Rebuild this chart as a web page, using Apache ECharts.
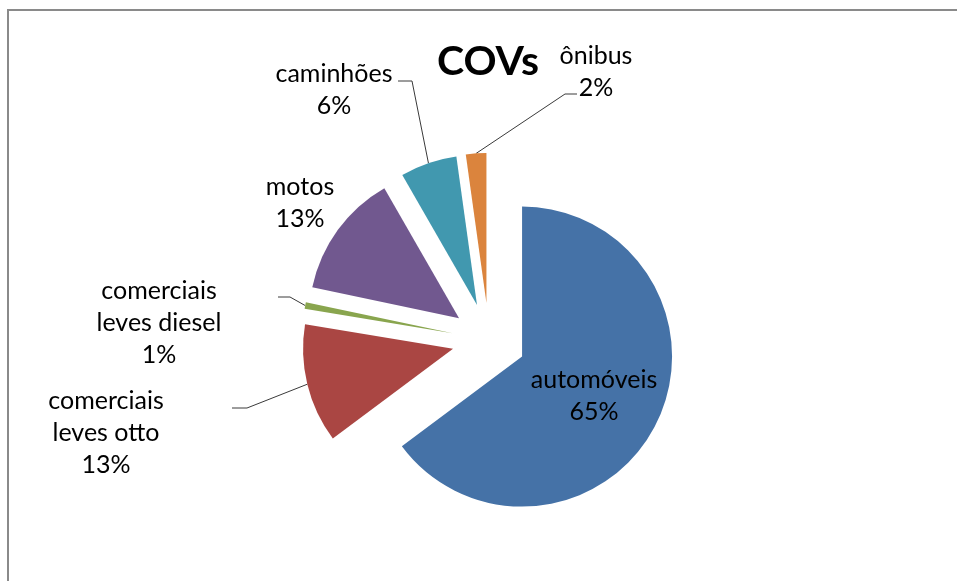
<!DOCTYPE html>
<html>
<head>
<meta charset="utf-8">
<title>COVs</title>
<script src="https://cdn.jsdelivr.net/npm/echarts@6/dist/echarts.min.js"></script>
<style>
  html, body { margin: 0; padding: 0; background: #ffffff; }
  #chart { width: 957px; height: 581px; }
</style>
</head>
<body>
<div id="chart"></div>
<script>
// Vehicle categories and their share (%) of COV emissions
const categories = ['automóveis', 'comerciais leves otto', 'comerciais leves diesel', 'motos', 'caminhões', 'ônibus'];
const shares = [64.8, 12.8, 0.7, 13.4, 6.1, 2.2];
const sliceColors = ['#4572A7', '#AA4643', '#89A54E', '#71588F', '#4198AF', '#DB843D'];

// Where each label block sits (centre of the text block)
const labelCenters = [[594, 396], [106, 433], [159, 323], [300, 203], [334, 90], [596, 72]];
// Leader line elbow and end point per label (null = no leader)
const leaderPaths = [null, [[247, 408], [232, 408]], [[290, 297], [278, 297]], null, [[412, 81], [398, 81]], [[565, 94], [577, 94]]];

// Pie geometry: common centre, radius and how far every slice is pulled out
const pieCenter = [489, 340];
const pieRadius = 150;
const explode = 37;

const labelFont = 'Lato, "Open Sans", sans-serif';
const total = shares.reduce(function (a, b) { return a + b; }, 0);

// One pie series per slice: each series draws all values (so angles come from the
// pie layout), shows only its own slice and is shifted outward along that slice's bisector.
const series = [];
let cumulative = 0;
categories.forEach(function (cat, k) {
  const mid = (cumulative + shares[k] / 2) / total * 2 * Math.PI; // clockwise from 12 o'clock
  cumulative += shares[k];
  const center = [pieCenter[0] + explode * Math.sin(mid), pieCenter[1] - explode * Math.cos(mid)];
  series.push({
    type: 'pie',
    name: cat,
    center: center,
    radius: pieRadius,
    startAngle: 90,
    clockwise: true,
    avoidLabelOverlap: false,
    silent: true,
    itemStyle: { borderWidth: 0 },
    emphasis: { disabled: true },
    label: {
      show: true,
      position: 'outside',
      fontFamily: labelFont,
      fontSize: 25,
      lineHeight: 32,
      color: '#000000',
      align: 'center',
      formatter: function (p) {
        return p.name.replace('comerciais ', 'comerciais\n') + '\n' + Math.round(p.percent) + '%';
      }
    },
    labelLine: { show: true, length: 15, length2: 15, lineStyle: { color: '#3a3a3a', width: 1 } },
    labelLayout: function (p) {
      if (p.dataIndex !== k) return {};
      const c = labelCenters[k];
      const out = { x: c[0], y: c[1], align: 'center', verticalAlign: 'middle' };
      const g = leaderPaths[k];
      if (g && p.labelLinePoints) {
        out.labelLinePoints = [p.labelLinePoints[0], g[0], g[1]];
      }
      return out;
    },
    data: categories.map(function (name, i) {
      const own = i === k;
      return {
        name: name,
        value: shares[i],
        itemStyle: { color: own ? sliceColors[i] : 'rgba(0,0,0,0)' },
        label: { show: own },
        labelLine: { show: own && leaderPaths[i] !== null }
      };
    })
  });
});

const chart = echarts.init(document.getElementById('chart'), null, { renderer: 'canvas' });

chart.setOption({
  animation: false,
  backgroundColor: '#ffffff',
  title: {
    text: 'COVs',
    left: 488,
    top: 38,
    padding: 0,
    textAlign: 'center',
    textStyle: { fontFamily: labelFont, fontWeight: 'bold', fontSize: 41, color: '#000000', lineHeight: 48 }
  },
  graphic: [{
    type: 'rect',
    shape: { x: 8, y: 10, width: 1200, height: 1200 },
    style: { fill: 'none', stroke: '#8a8a8a', lineWidth: 2 },
    silent: true,
    z: -1
  }],
  series: series
});
</script>
</body>
</html>
